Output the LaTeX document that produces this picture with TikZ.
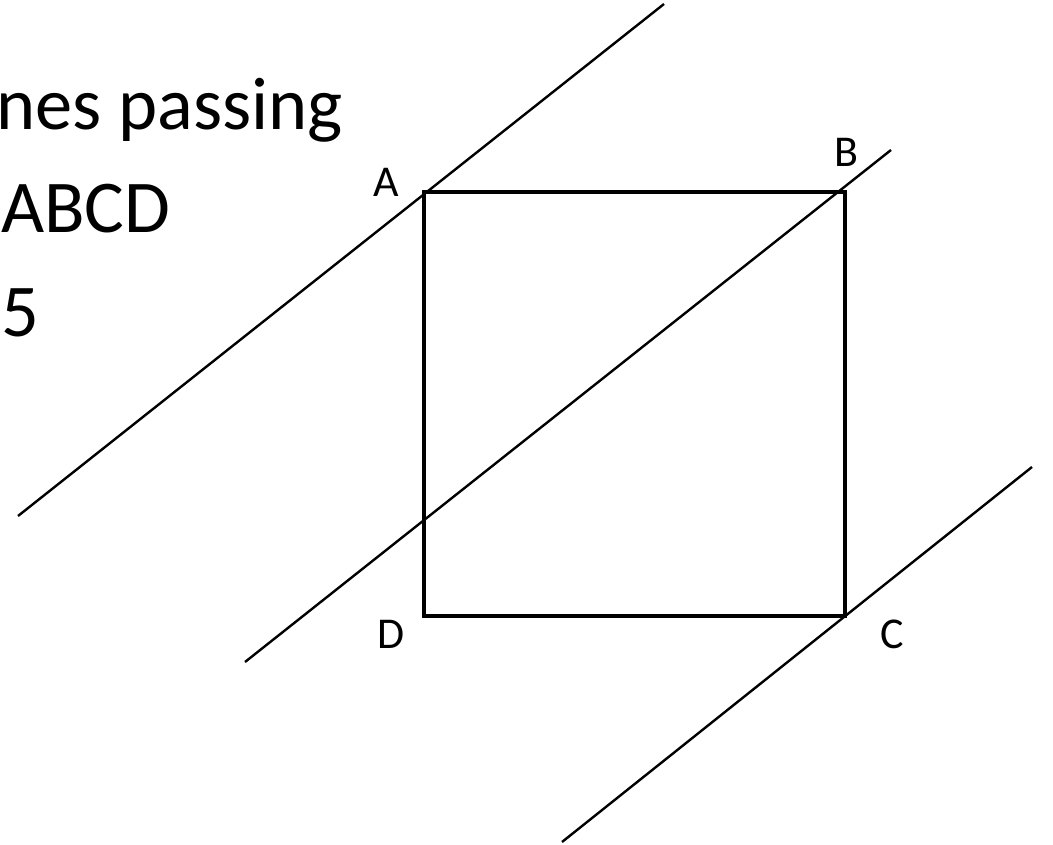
\documentclass[tikz,border=0pt]{standalone}
\usepackage{fontspec}
\setmainfont{Carlito}
\begin{document}
\begin{tikzpicture}[x=1pt,y=-1pt,
  edge/.style={line width=3.4pt,line join=miter},
  par/.style={line width=2.4pt},
  bigtext/.style={font=\fontsize{74.5}{80}\selectfont,inner sep=0pt,anchor=base west},
  vlabel/.style={font=\fontsize{44}{50}\selectfont,inner sep=0pt}]
\useasboundingbox (0,0) rectangle (1053,845);
% corners
\coordinate (A) at (424,192);
\coordinate (B) at (845,192);
\coordinate (C) at (845,616);
\coordinate (D) at (424,616);
% line end points
\coordinate (l1a) at (664,4);
\coordinate (l1b) at (18,516);
\coordinate (l2a) at (891,150);
\coordinate (l2b) at (245,662);
\coordinate (l3a) at (1032,467);
\coordinate (l3b) at (562,842);
% parallel lines
\draw[par] (l1a) -- (l1b);
\draw[par] (l2a) -- (l2b);
\draw[par] (l3a) -- (l3b);
% square
\draw[edge] (A) -- (B) -- (C) -- (D) -- cycle;
% labels
\node[vlabel] (la) at (386,182) {A};
\node[vlabel] (lb) at (846,152) {B};
\node[vlabel] (lc) at (892,634) {C};
\node[vlabel] (ld) at (391,634) {D};
% text
\node[bigtext] (t1) at (-4,130) {nes passing};
\node[bigtext] (t2) at (1,233) {ABCD};
\node[bigtext] (t3) at (1,336) {5};
\end{tikzpicture}
\end{document}
